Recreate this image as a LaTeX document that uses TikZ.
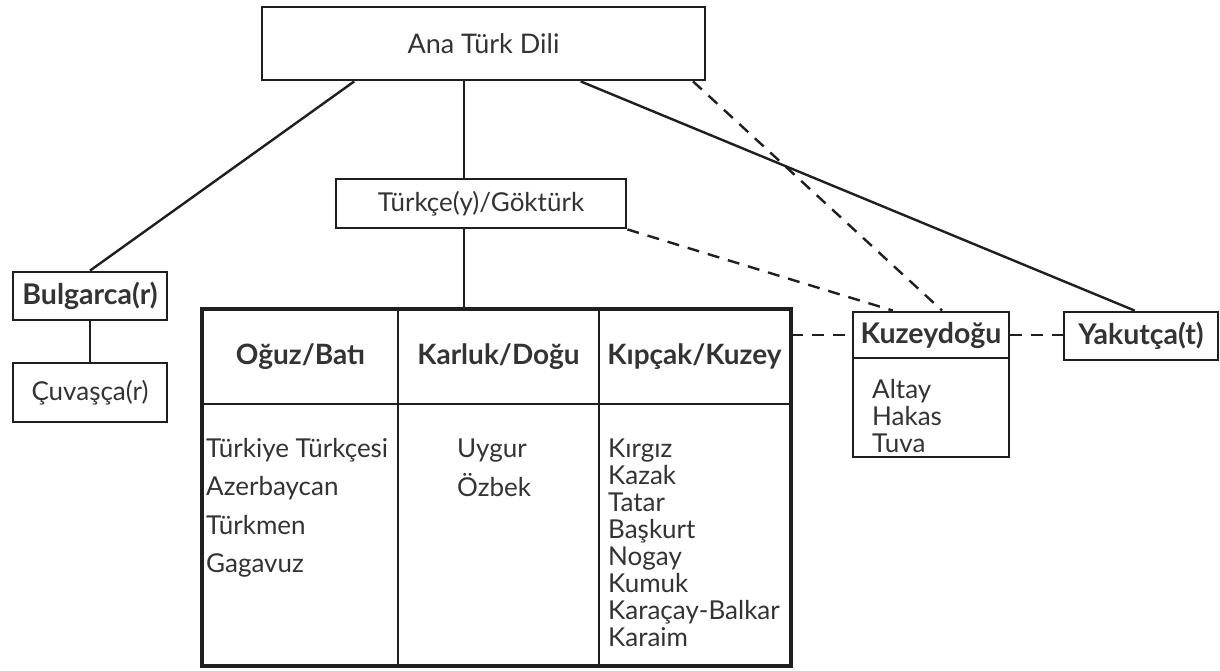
\documentclass[tikz,border=0pt]{standalone}
\usepackage{fontspec}
\setmainfont{Lato}
\usetikzlibrary{calc}

\definecolor{ink}{gray}{0.12}
\definecolor{textink}{gray}{0.2}

\tikzset{
  box/.style={draw=ink, line width=2.8pt, inner sep=0pt, text=textink,
    font=\fontsize{26}{30}\selectfont},
  boldbox/.style={box, font=\fontsize{28.5}{32}\selectfont\bfseries},
  cell/.style={draw=ink, line width=2.5pt, inner sep=0pt, text=textink,
    font=\fontsize{28}{32}\selectfont\bfseries},
  item/.style={anchor=base west, inner sep=0pt, text=textink,
    font=\fontsize{26}{30}\selectfont},
  link/.style={draw=ink, line width=2.4pt},
  dashlink/.style={link, dash pattern=on 12pt off 9pt}
}

\begin{document}
\begin{tikzpicture}[x=1pt,y=-1pt]

  \useasboundingbox (0,0) rectangle (1220,670);

  % top of the tree
  \node[box, minimum width=443pt, minimum height=73pt, font=\fontsize{27}{30}\selectfont] (ana) at (483.5,43.5) {Ana Türk Dili};
  \node[box, minimum width=290pt, minimum height=49pt] (tuerk) at (481,203.5) {Türkçe(y)/Göktürk};

  % r-branch on the left
  \node[boldbox, minimum width=154pt, minimum height=48pt] (bulg) at (90,296) {Bulgarca(r)};
  \node[box, minimum width=154pt, minimum height=59pt] (cuva) at (90,392.5) {Çuvaşça(r)};

  % the three groups
  \node[cell, minimum width=195pt, minimum height=94pt] (oguz) at (300.5,357) {Oğuz/Batı};
  \node[cell, minimum width=201pt, minimum height=94pt] (karluk) at (498.5,357) {Karluk/Doğu};
  \node[cell, minimum width=191pt, minimum height=94pt] (kipcak) at (694.5,357) {Kıpçak/Kuzey};
  \node[cell, minimum width=195pt, minimum height=261pt] (oguzB) at (300.5,534.5) {};
  \node[cell, minimum width=201pt, minimum height=261pt] (karlukB) at (498.5,534.5) {};
  \node[cell, minimum width=191pt, minimum height=261pt] (kipcakB) at (694.5,534.5) {};
  \draw[draw=ink, line width=4pt] (oguz.north west) rectangle (kipcakB.south east);

  % north-east group and Yakutca
  \node[boldbox, minimum width=156pt, minimum height=46pt] (kuzey) at (931,335) {Kuzeydoğu};
  \node[box, minimum width=156pt, minimum height=99pt] (kuzeyB) at (931,407.5) {};
  \node[boldbox, minimum width=154pt, minimum height=48pt] (yakut) at (1141,336) {Yakutça(t)};

  % languages in each group
  \foreach \lang [count=\i] in {Türkiye Türkçesi, Azerbaycan, Türkmen, Gagavuz}
    \node[item] (oguz\i) at (206,{457+38.6*(\i-1)}) {\lang};
  \foreach \lang [count=\i] in {Uygur, Özbek}
    \node[item] (karluk\i) at (457,{457+39*(\i-1)}) {\lang};
  \foreach \lang [count=\i] in {Kırgız, Kazak, Tatar, Başkurt, Nogay, Kumuk, Karaçay-Balkar, Karaim}
    \node[item] (kipcak\i) at (608,{457+27.1*(\i-1)}) {\lang};
  \foreach \lang [count=\i] in {Altay, Hakas, Tuva}
    \node[item] (kuzey\i) at (872,{398+27*(\i-1)}) {\lang};

  % solid branches
  \coordinate (trunk) at ($(ana.south west)!0.456!(ana.south east)$);
  \draw[link] ($(ana.south west)!0.21!(ana.south east)$) -- (bulg.north);
  \draw[link] (bulg) -- (cuva);
  \draw[link] (trunk) -- (trunk |- tuerk.north);
  \draw[link] (trunk |- tuerk.south) -- (trunk |- karluk.north);
  \draw[link] ($(ana.south west)!0.718!(ana.south east)$) -- ($(yakut.north west)!0.46!(yakut.north east)$);

  % dashed relations
  \draw[dashlink] (tuerk.south east) -- ($(kuzey.north west)!0.26!(kuzey.north east)$);
  \draw[dashlink] ($(ana.south west)!0.97!(ana.south east)$) -- ($(kuzey.north west)!0.57!(kuzey.north east)$);
  \draw[dashlink] (kuzey.west -| kipcak.east) -- (kuzey.west);
  \draw[dashlink] (kuzey.east) -- (kuzey.east -| yakut.west);

\end{tikzpicture}
\end{document}
